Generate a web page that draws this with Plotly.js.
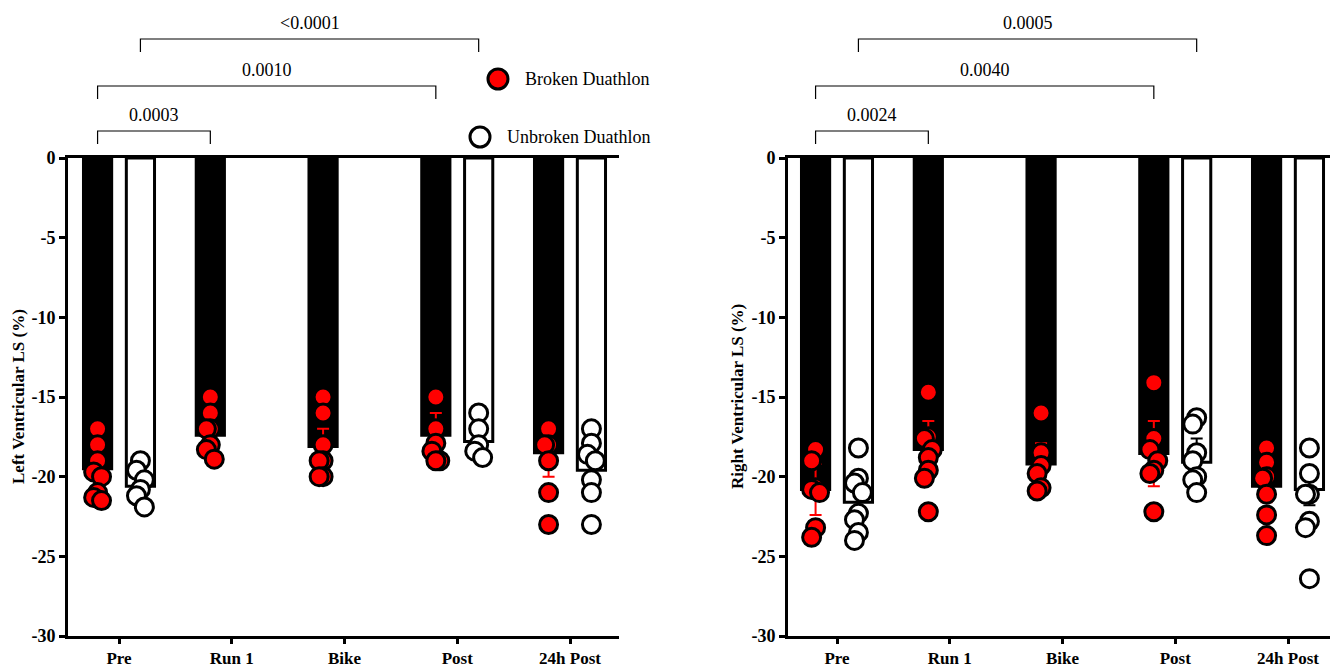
<!DOCTYPE html>
<html>
<head>
<meta charset="utf-8">
<script src="https://cdn.plot.ly/plotly-3.0.1.min.js"></script>
<style>html,body{margin:0;padding:0;background:#fff;}#chart{width:1333px;height:667px;}</style>
</head>
<body>
<div id="chart"></div>
<script>
// ---- data ----
const categories = ["Pre", "Run 1", "Bike", "Post", "24h Post"];
const seriesNames = ["Broken Duathlon", "Unbroken Duathlon"];

// Left ventricular LS (%)
const lvBrokenMean = [-19.5, -17.4, -18.1, -17.4, -18.5];
const lvBrokenErr = [0.6, 0.5, 1.1, 1.4, 1.5];
const lvUnbrokenMean = [-20.6, null, null, -17.8, -19.6];
const lvUnbrokenErr = [0.5, null, null, 0.5, 0.8];
const lvBrokenPoints = [
  [-17, -18, -19, -19.7, -20, -21, -21.3, -21.5],
  [-15, -16, -17, -17, -18, -18.3, -18.9],
  [-15, -16, -18, -19, -19, -20, -20],
  [-15, -17, -17.9, -18.4, -19, -19],
  [-17, -18, -18, -19, -21, -23]
];
const lvUnbrokenPoints = [
  [-19, -19.6, -20.2, -20.8, -21.2, -21.9],
  [],
  [],
  [-16, -17, -18, -18.4, -18.8],
  [-17, -17.9, -18.6, -19, -20.2, -21, -23]
];

// Right ventricular LS (%)
const rvBrokenMean = [-20.8, -18.3, -19.2, -18.55, -20.6];
const rvBrokenErr = [1.6, 1.8, 1.3, 2.05, 1.0];
const rvUnbrokenMean = [-21.6, null, null, -19.1, -20.8];
const rvUnbrokenErr = [0.8, null, null, 1.5, 1.0];
const rvBrokenPoints = [
  [-18.3, -19, -20.7, -20.8, -21, -23.2, -23.8],
  [-14.7, -17.5, -17.6, -18.3, -18.8, -19.6, -20.1, -22.2],
  [-16, -18.5, -19.3, -19.8, -20.7, -20.9],
  [-14.1, -17.6, -18.3, -19, -19.6, -19.8, -22.2],
  [-18.2, -19.1, -20, -20.1, -21.1, -22.4, -23.7]
];
const rvUnbrokenPoints = [
  [-18.2, -20.1, -20.4, -21, -22.3, -22.7, -23.5, -24],
  [],
  [],
  [-16.3, -16.7, -18.5, -19, -20, -20.2, -21],
  [-18.2, -19.8, -21.1, -21.1, -22.8, -23.2, -26.4]
];

// significance comparisons: [fromCategory, fromSeries, toCategory, toSeries, label]
const lvComparisons = [
  [0, 0, 1, 0, "0.0003"],
  [0, 0, 3, 0, "0.0010"],
  [0, 1, 3, 1, "<0.0001"]
];
const rvComparisons = [
  [0, 0, 1, 0, "0.0024"],
  [0, 0, 3, 0, "0.0040"],
  [0, 1, 3, 1, "0.0005"]
];

// ---- styling / layout ----
const W = 1333, H = 667;
const FONT = "Liberation Serif";
const OFF = 0.19;       // half distance between the two series in a group
const BARW = 0.25;
const seriesOffset = [-OFF, OFF];
const RED = "#ff0000";
const SPREAD = 0.035;   // horizontal nudge for overlapping points (beeswarm-like)

function xs(arr, s) { return arr.map((_, i) => i + seriesOffset[s]); }

// simple deterministic overlap avoidance: alternate nudges for close points
function swarm(points, s) {
  const px = [], py = [];
  points.forEach((p, i) => {
    const sorted = p.slice().sort((a, b) => b - a);
    const pattern = [0, -1, 1];
    let k = 0, prev = null;
    sorted.forEach(v => {
      if (prev !== null && Math.abs(prev - v) < 0.75) k = (k + 1) % 3; else k = 0;
      prev = v;
      px.push(i + seriesOffset[s] + pattern[k] * SPREAD);
      py.push(v);
    });
  });
  return {x: px, y: py};
}

function panelTraces(xa, ya, bMean, bErr, uMean, uErr, bPts, uPts) {
  const t = [];
  t.push({
    type: "bar", x: xs(bMean, 0), y: bMean, width: BARW, xaxis: xa, yaxis: ya,
    marker: {color: "#000", line: {color: "#000", width: 3}},
    error_y: {type: "data", array: bErr, visible: true, color: RED, thickness: 2, width: 6},
    showlegend: false, hoverinfo: "skip"
  });
  t.push({
    type: "bar", x: xs(uMean, 1), y: uMean, width: BARW, xaxis: xa, yaxis: ya,
    marker: {color: "#fff", line: {color: "#000", width: 3}},
    error_y: {type: "data", array: uErr, visible: true, color: "#000", thickness: 2, width: 6},
    showlegend: false, hoverinfo: "skip"
  });
  const b = swarm(bPts, 0), u = swarm(uPts, 1);
  t.push({
    type: "scatter", mode: "markers", x: b.x, y: b.y, xaxis: xa, yaxis: ya,
    marker: {size: 18, color: RED, line: {color: "#000", width: 3}},
    showlegend: false, hoverinfo: "skip", name: seriesNames[0]
  });
  t.push({
    type: "scatter", mode: "markers", x: u.x, y: u.y, xaxis: xa, yaxis: ya,
    marker: {size: 18, color: "#fff", line: {color: "#000", width: 3}},
    showlegend: false, hoverinfo: "skip", name: seriesNames[1]
  });
  return t;
}

const data = [].concat(
  panelTraces("x", "y", lvBrokenMean, lvBrokenErr, lvUnbrokenMean, lvUnbrokenErr, lvBrokenPoints, lvUnbrokenPoints),
  panelTraces("x2", "y2", rvBrokenMean, rvBrokenErr, rvUnbrokenMean, rvUnbrokenErr, rvBrokenPoints, rvUnbrokenPoints)
);

const yDomain = [1 - 636 / H, 1 - 158 / H];
function xAxis(domain, range, anchor) {
  return {
    domain: domain, range: range, anchor: anchor,
    tickmode: "array", tickvals: categories.map((_, i) => i), ticktext: categories,
    ticks: "outside", ticklen: 5, tickwidth: 3, tickcolor: "#000",
    showline: true, linewidth: 3, linecolor: "#000", mirror: true,
    showgrid: false, zeroline: false,
    tickfont: {family: FONT, size: 17, color: "#000", weight: "bold"}
  };
}
function yAxis(anchor) {
  return {
    domain: yDomain, range: [-30, 0], anchor: anchor,
    tickmode: "array", tickvals: [0, -5, -10, -15, -20, -25, -30],
    ticktext: ["0", "-5", "-10", "-15", "-20", "-25", "-30"],
    ticks: "outside", ticklen: 6, tickwidth: 3, tickcolor: "#000",
    showline: true, linewidth: 3, linecolor: "#000",
    showgrid: false, zeroline: false,
    tickfont: {family: FONT, size: 18, color: "#000", weight: "bold"}
  };
}

const shapes = [], annotations = [];
const bracketY = [131, 86, 39];  // pixel rows of the bracket bars
function addBrackets(comps, xref) {
  comps.forEach((c, k) => {
    const x0 = c[0] + seriesOffset[c[1]], x1 = c[2] + seriesOffset[c[3]];
    const yTop = 1 - bracketY[k] / H, yBot = 1 - (bracketY[k] + 13) / H;
    shapes.push({type: "path", xref: xref, yref: "paper",
      path: `M ${x0},${yBot} L ${x0},${yTop} L ${x1},${yTop} L ${x1},${yBot}`,
      line: {color: "#000", width: 1.2}});
    annotations.push({xref: xref, yref: "paper", x: (x0 + x1) / 2, y: 1 - (bracketY[k] - 16) / H,
      text: c[4], showarrow: false, font: {family: FONT, size: 18, color: "#000"},
      xanchor: "center", yanchor: "middle"});
  });
}
addBrackets(lvComparisons, "x");
addBrackets(rvComparisons, "x2");

// legend (drawn manually)
const legendItems = [
  {cx: 498, cy: 79, fill: RED, text: seriesNames[0], tx: 523},
  {cx: 480, cy: 137, fill: "#fff", text: seriesNames[1], tx: 505}
];
legendItems.forEach(l => {
  shapes.push({type: "circle", xref: "paper", yref: "paper", xsizemode: "pixel", ysizemode: "pixel",
    xanchor: l.cx / W, yanchor: 1 - l.cy / H, x0: -10, x1: 10, y0: -10, y1: 10,
    fillcolor: l.fill, line: {color: "#000", width: 3}});
  annotations.push({xref: "paper", yref: "paper", x: l.tx / W, y: 1 - l.cy / H, text: l.text,
    showarrow: false, xanchor: "left", yanchor: "middle",
    font: {family: FONT, size: 18, color: "#000"}});
});

// y-axis titles
annotations.push({xref: "paper", yref: "paper", x: 18 / W, y: 1 - 397 / H, text: "Left Ventricular LS (%)",
  textangle: -90, showarrow: false, xanchor: "center", yanchor: "middle",
  font: {family: FONT, size: 17, color: "#000", weight: "bold"}});
annotations.push({xref: "paper", yref: "paper", x: 737 / W, y: 1 - 397 / H, text: "Right Ventricular LS (%)",
  textangle: -90, showarrow: false, xanchor: "center", yanchor: "middle",
  font: {family: FONT, size: 17, color: "#000", weight: "bold"}});

const lvLeft = 68, lvRight = 619, lvC0 = 119, rvLeft = 788, rvRight = 1330, rvC0 = 837, step = 112.75;
const layout = {
  width: W, height: H,
  margin: {l: 0, r: 0, t: 0, b: 0},
  paper_bgcolor: "#fff", plot_bgcolor: "#fff",
  barmode: "overlay",
  showlegend: false,
  xaxis: xAxis([lvLeft / W, lvRight / W], [(lvLeft - lvC0) / step, (lvRight - lvC0) / step], "y"),
  yaxis: yAxis("x"),
  xaxis2: xAxis([rvLeft / W, rvRight / W], [(rvLeft - rvC0) / step, (rvRight - rvC0) / step], "y2"),
  yaxis2: yAxis("x2"),
  shapes: shapes,
  annotations: annotations
};

Plotly.newPlot("chart", data, layout, {displayModeBar: false, staticPlot: true});
</script>
</body>
</html>
